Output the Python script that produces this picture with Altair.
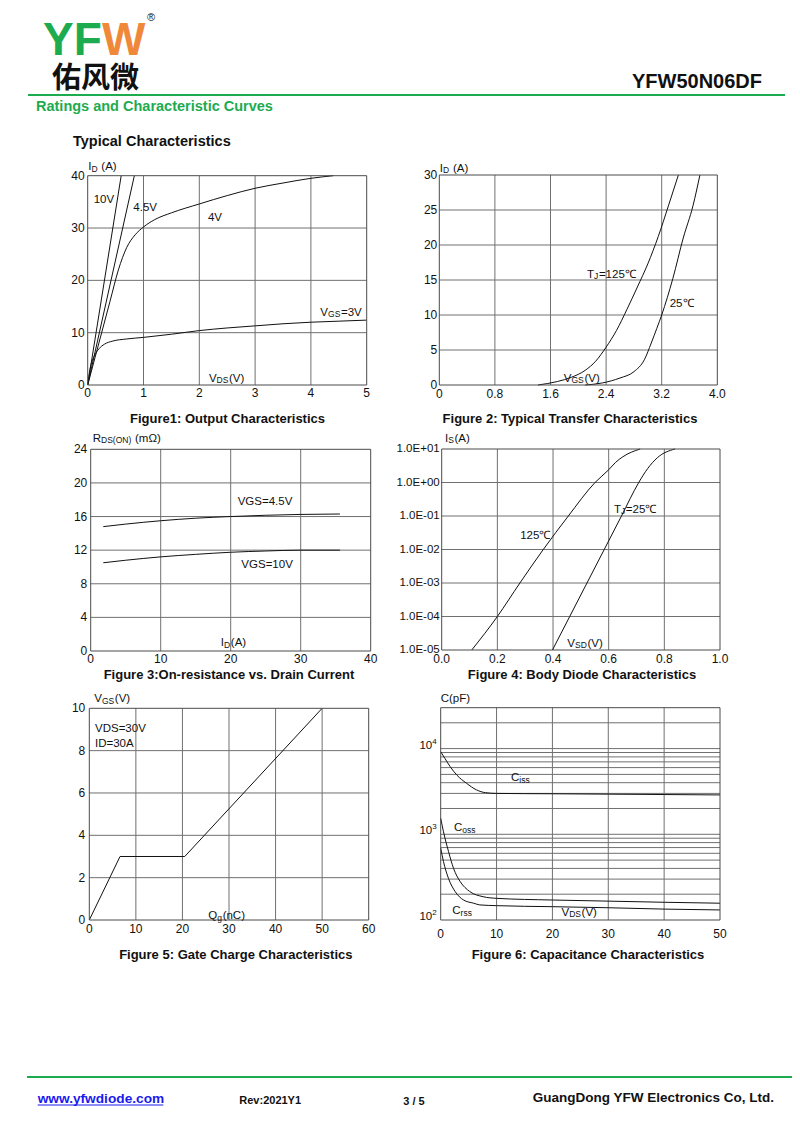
import altair as alt
import pandas as pd

FONT = "Liberation Sans"
CJK = "Noto Sans CJK SC"
INK = "#111111"
GRID = "#707070"
FRAME = "#4a4a4a"
GREEN = "#1dab4f"
ORANGE = "#f0883a"
BLUE = "#1a1aee"
PAGE_W, PAGE_H = 784, 1120

# ---------------- Figure 1: Output characteristics ----------------
f1_vds_10 = [0.0, 0.60]
f1_id_10 = [0.0, 40.0]
f1_vds_45 = [0.0, 0.836]
f1_id_45 = [0.0, 40.0]
f1_vds_4 = [0, 0.2, 0.4, 0.55, 0.7, 0.85, 1.0, 1.2, 1.5, 2.0, 2.5, 3.0, 3.5, 4.0, 4.4]
f1_id_4 = [0, 8, 16, 22, 26.3, 28.7, 30.2, 31.6, 32.9, 34.6, 36.2, 37.6, 38.6, 39.5, 40]
f1_vds_3 = [0, 0.04, 0.08, 0.13, 0.2, 0.3, 0.45, 0.7, 1.0, 1.5, 2.0, 2.5, 3.0, 3.5, 4.0, 4.5, 5.0]
f1_id_3 = [0, 3.0, 4.6, 5.8, 6.9, 7.8, 8.4, 8.8, 9.1, 9.7, 10.4, 10.9, 11.3, 11.7, 12.0, 12.2, 12.4]
f1_xticks = [0, 1, 2, 3, 4, 5]
f1_xlabels = ["0", "1", "2", "3", "4", "5"]
f1_yticks = [0, 10, 20, 30, 40]
f1_ylabels = ["0", "10", "20", "30", "40"]

# ---------------- Figure 2: Transfer characteristics ----------------
f2_vgs_125 = [1.42, 1.7, 1.9, 2.1, 2.25, 2.4, 2.55, 2.7, 2.85, 3.0, 3.15, 3.3, 3.44]
f2_id_125 = [0, 0.5, 1.1, 2.1, 3.4, 5.4, 7.8, 10.8, 14.0, 17.3, 21.2, 25.7, 30]
f2_vgs_25 = [2.1, 2.35, 2.6, 2.8, 2.95, 3.05, 3.13, 3.2, 3.36, 3.51, 3.65, 3.75]
f2_id_25 = [0, 0.3, 1.0, 1.9, 3.6, 6.0, 8.1, 10, 15.2, 21, 25.6, 30]
f2_xticks = [0, 0.8, 1.6, 2.4, 3.2, 4.0]
f2_xlabels = ["0", "0.8", "1.6", "2.4", "3.2", "4.0"]
f2_yticks = [0, 5, 10, 15, 20, 25, 30]
f2_ylabels = ["0", "5", "10", "15", "20", "25", "30"]

# ---------------- Figure 3: On-resistance ----------------
f3_id = [1.8, 5, 10, 15, 20, 25, 30, 35.6]
f3_r45 = [14.8, 15.1, 15.5, 15.8, 16.0, 16.15, 16.25, 16.3]
f3_r10 = [10.5, 10.8, 11.2, 11.5, 11.75, 11.9, 12.0, 12.0]
f3_xticks = [0, 10, 20, 30, 40]
f3_xlabels = ["0", "10", "20", "30", "40"]
f3_yticks = [0, 4, 8, 12, 16, 20, 24]
f3_ylabels = ["0", "4", "8", "12", "16", "20", "24"]

# ---------------- Figure 4: Body diode ----------------
f4_vsd_125 = [0.108, 0.2, 0.281, 0.365, 0.455, 0.551, 0.6, 0.625, 0.65, 0.713]
f4_is_125 = [1e-5, 1e-4, 1e-3, 1e-2, 1e-1, 1.0, 2.4, 4.0, 5.8, 10]
f4_vsd_25 = [0.398, 0.46, 0.522, 0.584, 0.646, 0.708, 0.74, 0.775, 0.838]
f4_is_25 = [1e-5, 1e-4, 1e-3, 1e-2, 1e-1, 1.0, 2.6, 5.5, 10]
f4_xticks = [0, 0.2, 0.4, 0.6, 0.8, 1.0]
f4_xlabels = ["0.0", "0.2", "0.4", "0.6", "0.8", "1.0"]
f4_yticks = [1e-5, 1e-4, 1e-3, 1e-2, 1e-1, 1, 10]
f4_ylabels = ["1.0E-05", "1.0E-04", "1.0E-03", "1.0E-02", "1.0E-01", "1.0E+00", "1.0E+01"]

# ---------------- Figure 5: Gate charge ----------------
f5_qg = [0, 6.6, 20.5, 50]
f5_vgs = [0, 3, 3, 10]
f5_xticks = [0, 10, 20, 30, 40, 50, 60]
f5_xlabels = ["0", "10", "20", "30", "40", "50", "60"]
f5_yticks = [0, 2, 4, 6, 8, 10]
f5_ylabels = ["0", "2", "4", "6", "8", "10"]

# ---------------- Figure 6: Capacitance ----------------
f6_vds_ciss = [0, 0.8, 1.7, 2.9, 4.6, 6.4, 8, 10, 20, 30, 40, 50]
f6_ciss = [9200, 7600, 6150, 4900, 3950, 3300, 3060, 3000, 2970, 2940, 2910, 2880]
f6_vds_coss = [0, 0.5, 1.4, 2.3, 3.5, 5.2, 7.6, 10, 20, 30, 40, 50]
f6_coss = [1540, 1070, 630, 400, 280, 215, 187, 179, 171, 166, 161, 157]
f6_vds_crss = [0, 0.5, 1.4, 2.6, 4.1, 5.9, 7, 10, 20, 30, 40, 50]
f6_crss = [690, 480, 305, 214, 171, 157, 150, 147, 143, 139, 134, 131]
f6_xticks = [0, 10, 20, 30, 40, 50]
f6_xlabels = ["0", "10", "20", "30", "40", "50"]
f6_ygrid = [m * 10 ** k for k in (2, 3) for m in range(2, 10)] + [1000, 10000, 20000]
f6_ydecades = [100, 1000, 10000]
f6_yexps = ["2", "3", "4"]

# ---------------- helpers ----------------
WREG = {' ': .278, '(': .333, ')': .333, '.': .278, '=': .584, '+': .584, '-': .333,
        'A': .667, 'C': .722, 'D': .722, 'E': .667, 'G': .778, 'I': .278, 'J': .5,
        'N': .722, 'O': .778, 'Q': .778, 'R': .722, 'S': .667, 'T': .611, 'V': .667,
        'F': .611, 'g': .556, 'i': .222, 'm': .833, 'n': .556, 'o': .556, 'p': .556,
        'r': .333, 's': .5, 'c': .5, '℃': 1.0, 'Ω': .768}


def twidth(t, size):
    return sum(WREG.get(ch, .556) for ch in t) * size


def rich(segs, x, y, X, Y, align='center', dx=0.0, dy=0.0, base=11.5):
    widths = [twidth(t, s) + (0.6 if sh > 0 else 0) for t, s, sh in segs]
    total = sum(widths)
    off = dx - (total / 2 if align == 'center' else (total if align == 'right' else 0))
    df = pd.DataFrame({'x': [x], 'y': [y]})
    out = []
    for (t, s, sh), w in zip(segs, widths):
        body = t.lstrip(' ')
        lead = twidth(t[:len(t) - len(body)], s)
        out.append(alt.Chart(df).mark_text(text=body, align='left', baseline='alphabetic',
                                           dx=off + lead, dy=dy + 0.36 * base + sh, fontSize=s,
                                           font=FONT, color=INK)
                   .encode(x=X(), y=Y()))
        off += w
    return out


def sub(main, subs, rest='', size=11.5, ssize=8.5):
    segs = [(main, size, 0), (subs, ssize, 1.5)]
    if rest:
        segs.append((rest, size, 0))
    return segs


def plain(t, size=11.5):
    return [(t, size, 0)]


def panel(xdom, ydom, xr, yr, xticks, xlabels, yticks, ylabels, xgrid, ygrid, curves,
          labels, xpad=3, ypad=3, ysize=12, ylog=False, interp='monotone'):
    sx = alt.Scale(domain=xdom, range=xr, nice=False, zero=False)
    if ylog:
        sy = alt.Scale(type='log', domain=ydom, range=yr, nice=False)
    else:
        sy = alt.Scale(domain=ydom, range=yr, nice=False, zero=False)

    def X():
        return alt.X('x:Q', scale=sx, axis=None)

    def Y():
        return alt.Y('y:Q', scale=sy, axis=None)

    vg = pd.DataFrame({'x': xgrid, 'y': [ydom[0]] * len(xgrid), 'y2': [ydom[1]] * len(xgrid)})
    hg = pd.DataFrame({'y': ygrid, 'x': [xdom[0]] * len(ygrid), 'x2': [xdom[1]] * len(ygrid)})
    rows = []
    for name, xs, ys in curves:
        for i, (a, b) in enumerate(zip(xs, ys)):
            rows.append({'x': a, 'y': b, 's': name, 'i': i})
    cdf = pd.DataFrame(rows)
    fr = pd.DataFrame({'x': [xdom[0]], 'x2': [xdom[1]], 'y': [ydom[0]], 'y2': [ydom[1]]})

    layers = [
        alt.Chart(vg).mark_rule(color=GRID, strokeWidth=1).encode(x=X(), y=Y(), y2='y2'),
        alt.Chart(hg).mark_rule(color=GRID, strokeWidth=1).encode(y=Y(), x=X(), x2='x2'),
        alt.Chart(cdf).mark_line(color=INK, strokeWidth=1, interpolate=interp)
        .encode(x=X(), y=Y(), detail='s:N', order='i:Q'),
        alt.Chart(fr).mark_rect(fillOpacity=0, stroke=FRAME, strokeWidth=1)
        .encode(x=X(), x2='x2', y=Y(), y2='y2'),
    ]
    if xticks:
        xt = pd.DataFrame({'x': xticks, 'y': [ydom[0]] * len(xticks), 't': xlabels})
        layers.append(alt.Chart(xt).mark_text(align='center', baseline='top', dy=xpad,
                                              fontSize=12, font=FONT, color=INK)
                      .encode(x=X(), y=Y(), text='t:N'))
    if yticks:
        yt = pd.DataFrame({'y': yticks, 'x': [xdom[0]] * len(yticks), 't': ylabels})
        layers.append(alt.Chart(yt).mark_text(align='right', baseline='middle', dx=-ypad,
                                              fontSize=ysize, font=FONT, color=INK)
                      .encode(x=X(), y=Y(), text='t:N'))
    for lab in labels:
        segs, lx, ly = lab[0], lab[1], lab[2]
        opts = lab[3] if len(lab) > 3 else {}
        layers += rich(segs, lx, ly, X, Y, **opts)
    return alt.layer(*layers)


def page_text(t, x, y, size, color=INK, align='left', bold=True, font=FONT):
    return alt.Chart(pd.DataFrame({'t': [t]})).mark_text(
        align=align, baseline='alphabetic', fontSize=size,
        fontWeight='bold' if bold else 'normal', color=color, font=font
    ).encode(x=alt.value(x), y=alt.value(y), text='t:N')


def page_rule(x1, x2, y, color, width):
    return alt.Chart(pd.DataFrame({'k': [0]})).mark_rule(color=color, strokeWidth=width).encode(
        x=alt.value(x1), x2=alt.value(x2), y=alt.value(y))


# ---------------- panels ----------------
fig1 = panel(
    [0, 5], [0, 40], [79.7, 358.7], [377, 167.7],
    f1_xticks, f1_xlabels, f1_yticks, f1_ylabels, f1_xticks[1:-1], f1_yticks[1:-1],
    [('10V', f1_vds_10, f1_id_10), ('4.5V', f1_vds_45, f1_id_45),
     ('4V', f1_vds_4, f1_id_4), ('3V', f1_vds_3, f1_id_3)],
    [(plain('10V'), 0.29, 35.5), (plain('4.5V'), 1.03, 34.1), (plain('4V'), 2.28, 32.1),
     (sub('V', 'GS', '=3V'), 4.54, 14.0), (sub('V', 'DS', '(V)'), 2.49, 1.4),
     (sub('I', 'D', ' (A)'), 0, 40, dict(align='left', dx=0.5, dy=-9.4))],
    xpad=2.5, ypad=3)

fig2 = panel(
    [0, 4], [0, 30], [431.3, 709.3], [377, 167],
    f2_xticks, f2_xlabels, f2_yticks, f2_ylabels, f2_xticks[1:-1], f2_yticks[1:-1],
    [('125', f2_vgs_125, f2_id_125), ('25', f2_vgs_25, f2_id_25)],
    [(sub('T', 'J', '=125℃'), 2.48, 15.9), (plain('25℃'), 3.49, 11.7),
     (sub('V', 'GS', '(V)'), 2.05, 1.05),
     (sub('I', 'D', ' (A)'), 0, 30, dict(align='left', dx=0.5, dy=-7.5))],
    xpad=4, ypad=2)

fig3 = panel(
    [0, 40], [0, 24], [82.7, 362.7], [643, 441.3],
    f3_xticks, f3_xlabels, f3_yticks, f3_ylabels, f3_xticks[1:-1], f3_yticks[1:-1],
    [('4.5V', f3_id, f3_r45), ('10V', f3_id, f3_r10)],
    [(plain('VGS=4.5V'), 24.9, 17.9), (plain('VGS=10V'), 25.2, 10.4),
     (sub('I', 'D', '(A)'), 20.4, 1.07),
     (sub('R', 'DS(ON)', ' (mΩ)'), 0, 24, dict(align='left', dx=2, dy=-11.6))],
    xpad=3, ypad=3.4)

fig4 = panel(
    [0, 1], [1e-5, 10], [433.7, 712], [642, 441],
    f4_xticks, f4_xlabels, f4_yticks, f4_ylabels, f4_xticks[1:-1], f4_yticks[1:-1],
    [('125', f4_vsd_125, f4_is_125), ('25', f4_vsd_25, f4_is_25)],
    [(plain('125℃'), 0.337, 0.0265), (sub('T', 'J', '=25℃'), 0.696, 0.166),
     (sub('V', 'SD', '(V)'), 0.515, 1.66e-5),
     (sub('I', 'S', '(A)'), 0, 10, dict(align='left', dx=3.3, dy=-11.5))],
    xpad=4, ypad=2, ysize=11.5, ylog=True)

fig5 = panel(
    [0, 60], [0, 10], [81.3, 360.7], [912, 700.3],
    f5_xticks, f5_xlabels, f5_yticks, f5_ylabels, f5_xticks[1:-1], f5_yticks[1:-1],
    [('qg', f5_qg, f5_vgs)],
    [(plain('VDS=30V'), 1.22, 9.06, dict(align='left')),
     (plain('ID=30A'), 1.22, 8.35, dict(align='left')),
     (sub('Q', 'g', '(nC)'), 29.5, 0.24),
     (sub('V', 'GS', '(V)'), 0, 10, dict(align='left', dx=5, dy=-10))],
    xpad=4, ypad=4, interp='linear')

f6_labels = [(sub('C', 'iss'), 14.3, 4670), (sub('C', 'oss'), 4.36, 1208),
             (sub('C', 'rss'), 3.88, 131), (sub('V', 'DS', '(V)'), 24.8, 125),
             (plain('C(pF)'), 0, 30000, dict(align='left', dx=0, dy=-9.4))]
for val, ex in zip(f6_ydecades, f6_yexps):
    f6_labels.append(([('10', 11.5, 0), (ex, 8, -5)], 0, val,
                      dict(align='right', dx=-4, dy=-4)))

fig6 = panel(
    [0, 50], [100, 30000], [432.7, 712], [912, 699.7],
    f6_xticks, f6_xlabels, [], [], f6_xticks[1:-1], f6_ygrid,
    [('Ciss', f6_vds_ciss, f6_ciss), ('Coss', f6_vds_coss, f6_coss),
     ('Crss', f6_vds_crss, f6_crss)],
    f6_labels, xpad=9, ylog=True)

# ---------------- page texts ----------------
page = [
    page_text('YF', 35, 47, 46, color=GREEN),
    page_text('W', 94, 47, 46, color=ORANGE),
    page_text('®', 139, 13, 11, bold=False),
    page_text('佑风微', 44, 79.5, 29, font=CJK),
    page_text('YFW50N06DF', 754, 80.3, 20, align='right'),
    page_rule(20, 777, 87, GREEN, 2),
    page_text('Ratings and Characteristic Curves', 28, 103, 14.5, color=GREEN),
    page_text('Typical Characteristics', 65, 137.5, 14.5),
    page_text('Figure1: Output Characteristics', 219.5, 414.5, 13, align='center'),
    page_text('Figure 2: Typical Transfer Characteristics', 562, 414.5, 13, align='center'),
    page_text('Figure 3:On-resistance vs. Drain Current', 221, 671, 13, align='center'),
    page_text('Figure 4: Body Diode Characteristics', 574, 671, 13, align='center'),
    page_text('Figure 5: Gate Charge Characteristics', 227.8, 951, 13, align='center'),
    page_text('Figure 6: Capacitance Characteristics', 580, 951, 13, align='center'),
    page_rule(19, 789, 1069, GREEN, 2),
    page_text('www.yfwdiode.com', 29.7, 1094.7, 13.7, color=BLUE),
    page_rule(29.7, 155.3, 1097, BLUE, 1),
    page_text('Rev:2021Y1', 231.3, 1096, 11),
    page_text('3 / 5', 395.3, 1096.5, 11),
    page_text('GuangDong YFW Electronics Co, Ltd.', 524.7, 1093.5, 13.5),
]

chart = alt.layer(fig1, fig2, fig3, fig4, fig5, fig6, *page).resolve_scale(
    x='independent', y='independent'
).properties(
    width=PAGE_W, height=PAGE_H, padding=0,
    autosize=alt.AutoSizeParams(type='none'), background='white'
).configure_view(stroke=None)

chart.save("out.html", embed_options={"renderer": "svg", "actions": False})
